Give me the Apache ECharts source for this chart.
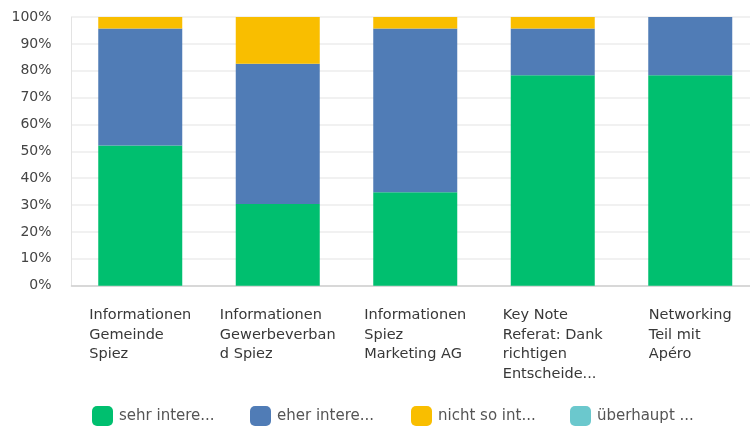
<!DOCTYPE html>
<html>
<head>
<meta charset="utf-8">
<script src="https://cdn.jsdelivr.net/npm/echarts@6/dist/echarts.min.js"></script>
<style>
html,body{margin:0;padding:0;background:#fff;overflow:hidden;width:750px;height:428px;}
#chart{width:760px;height:428px;}
</style>
</head>
<body>
<div id="chart"></div>
<script>
// Categories (display lines separated by \n)
var categories = [
  "Informationen\nGemeinde\nSpiez",
  "Informationen\nGewerbeverban\nd Spiez",
  "Informationen\nSpiez\nMarketing AG",
  "Key Note\nReferat: Dank\nrichtigen\nEntscheide...",
  "Networking\nTeil mit\nApéro"
];
var seriesNames = ["sehr intere...", "eher intere...", "nicht so int...", "überhaupt ..."];
// Percent values
var sehr = [52.2, 30.4, 34.8, 78.3, 78.3];
var eher = [43.5, 52.2, 60.9, 17.4, 21.7];
var nichtSo = [4.3, 17.4, 4.3, 4.3, 0];
var ueberhaupt = [0, 0, 0, 0, 0];
var yTicks = [0, 10, 20, 30, 40, 50, 60, 70, 80, 90, 100];

var colors = ["#00BF6F", "#507CB6", "#F9BE00", "#6BC8CD"];
var FONT = "'DejaVu Sans', sans-serif";
var seriesData = [sehr, eher, nichtSo, ueberhaupt];

var chart = echarts.init(document.getElementById('chart'), null, {renderer: 'canvas'});

var legendLefts = [92, 250, 411, 570];
var legends = seriesNames.map(function (n, i) {
  return {
    data: [n],
    left: legendLefts[i],
    top: 406,
    padding: 0,
    itemWidth: 21,
    itemHeight: 20,
    itemGap: 0,
    icon: 'roundRect',
    selectedMode: false,
    textStyle: {color: '#555', fontSize: 15, fontFamily: FONT, padding: [0, 0, 0, 1]}
  };
});

var option = {
  animation: false,
  color: colors,
  legend: legends,
  grid: {left: 71.5, top: 17, width: 687.5, height: 268.7, containLabel: false},
  xAxis: {
    type: 'category',
    data: categories,
    axisLine: {show: true, lineStyle: {color: '#cfcfcf', width: 1.5}},
    axisTick: {show: false},
    axisLabel: {
      interval: 0,
      margin: 20,
      color: '#333',
      fontSize: 14.5,
      fontFamily: FONT,
      formatter: function (v) {
        return v.split('\n').map(function (l) { return '{a|' + l + '}'; }).join('\n');
      },
      rich: {a: {align: 'left', fontSize: 14.5, lineHeight: 19.5, color: '#383838', fontFamily: FONT}}
    }
  },
  yAxis: {
    type: 'value',
    min: 0,
    max: 100,
    interval: 10,
    axisLine: {show: true, lineStyle: {color: '#e3e3e3'}},
    axisTick: {show: false},
    splitLine: {lineStyle: {color: '#ececec', width: 1.5}},
    axisLabel: {
      margin: 20,
      color: '#444',
      fontSize: 14,
      fontFamily: FONT,
      formatter: function (v) { return yTicks.indexOf(v) >= 0 ? v + '%' : ''; }
    }
  },
  series: seriesNames.map(function (n, i) {
    return {
      name: n,
      type: 'bar',
      stack: 'total',
      barWidth: 84,
      data: seriesData[i],
      itemStyle: {color: colors[i]}
    };
  })
};
chart.setOption(option);
</script>
</body>
</html>
